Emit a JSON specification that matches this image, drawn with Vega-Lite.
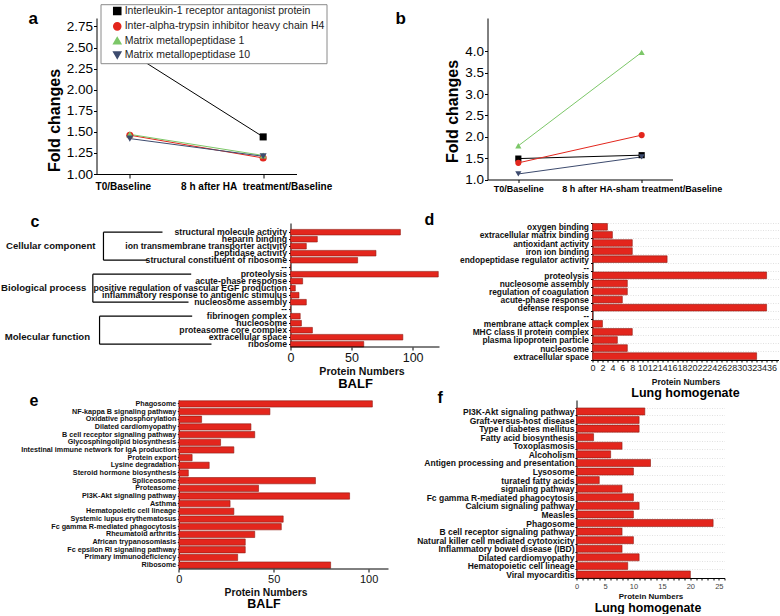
{
  "$schema": "https://vega.github.io/schema/vega-lite/v6.json",
  "padding": {"left": 0.5, "top": 3, "right": 0, "bottom": 0},
  "background": "white",
  "config": {
    "font": "Liberation Sans",
    "view": {"stroke": null},
    "axis": {"domainColor": "#000", "tickColor": "#000", "labelColor": "#111", "titleColor": "#111", "grid": false, "domainWidth": 1, "tickWidth": 1},
    "title": {"color": "#000"}
  },
  "datasets": {
    "lineA": [
      {"protein": "Interleukin-1 receptor antagonist protein", "time": "T0/Baseline", "fold": 2.44},
      {"protein": "Interleukin-1 receptor antagonist protein", "time": "8 h after HA\u00a0 treatment/Baseline", "fold": 1.44},
      {"protein": "Inter-alpha-trypsin inhibitor heavy chain H4", "time": "T0/Baseline", "fold": 1.46},
      {"protein": "Inter-alpha-trypsin inhibitor heavy chain H4", "time": "8 h after HA\u00a0 treatment/Baseline", "fold": 1.19},
      {"protein": "Matrix metallopeptidase 1", "time": "T0/Baseline", "fold": 1.47},
      {"protein": "Matrix metallopeptidase 1", "time": "8 h after HA\u00a0 treatment/Baseline", "fold": 1.22},
      {"protein": "Matrix metallopeptidase 10", "time": "T0/Baseline", "fold": 1.42},
      {"protein": "Matrix metallopeptidase 10", "time": "8 h after HA\u00a0 treatment/Baseline", "fold": 1.21}
    ],
    "lineB": [
      {"protein": "Interleukin-1 receptor antagonist protein", "time": "T0/Baseline", "fold": 1.49},
      {"protein": "Interleukin-1 receptor antagonist protein", "time": "8 h after HA-sham treatment/Baseline", "fold": 1.57},
      {"protein": "Inter-alpha-trypsin inhibitor heavy chain H4", "time": "T0/Baseline", "fold": 1.39},
      {"protein": "Inter-alpha-trypsin inhibitor heavy chain H4", "time": "8 h after HA-sham treatment/Baseline", "fold": 2.04},
      {"protein": "Matrix metallopeptidase 1", "time": "T0/Baseline", "fold": 1.79},
      {"protein": "Matrix metallopeptidase 1", "time": "8 h after HA-sham treatment/Baseline", "fold": 3.98},
      {"protein": "Matrix metallopeptidase 10", "time": "T0/Baseline", "fold": 1.13},
      {"protein": "Matrix metallopeptidase 10", "time": "8 h after HA-sham treatment/Baseline", "fold": 1.53}
    ],
    "barC": [
      {"cat": "structural molecule activity", "n": 90},
      {"cat": "heparin binding", "n": 22},
      {"cat": "ion transmembrane transporter activity", "n": 13},
      {"cat": "peptidase activity", "n": 70},
      {"cat": "structural constituent of ribosome", "n": 55},
      {"cat": "--1", "n": 0},
      {"cat": "proteolysis", "n": 121},
      {"cat": "acute-phase response", "n": 10},
      {"cat": "positive regulation of vascular EGF production", "n": 4},
      {"cat": "inflammatory response to antigenic stimulus", "n": 7},
      {"cat": "nucleosome assembly", "n": 13},
      {"cat": "--2", "n": 0},
      {"cat": "fibrinogen complex", "n": 8},
      {"cat": "nucleosome", "n": 9},
      {"cat": "proteasome core complex", "n": 18},
      {"cat": "extracellular space", "n": 92},
      {"cat": "ribosome", "n": 60}
    ],
    "bracketC": [
      {"x1": -153, "x2": -153, "y1": "structural molecule activity", "y2": "structural constituent of ribosome"},
      {"x1": -153, "x2": -104.7, "y1": "structural molecule activity", "y2": "structural molecule activity"},
      {"x1": -153, "x2": -117, "y1": "structural constituent of ribosome", "y2": "structural constituent of ribosome"},
      {"x1": -161.7, "x2": -161.7, "y1": "proteolysis", "y2": "nucleosome assembly"},
      {"x1": -161.7, "x2": -81.2, "y1": "proteolysis", "y2": "proteolysis"},
      {"x1": -161.7, "x2": -83.4, "y1": "nucleosome assembly", "y2": "nucleosome assembly"},
      {"x1": -156.2, "x2": -156.2, "y1": "fibrinogen complex", "y2": "ribosome"},
      {"x1": -156.2, "x2": -80.4, "y1": "fibrinogen complex", "y2": "fibrinogen complex"},
      {"x1": -156.2, "x2": -64.6, "y1": "ribosome", "y2": "ribosome"}
    ],
    "groupC": [
      {"label": "Cellular component", "gx": -159.5, "row": "ion transmembrane transporter activity"},
      {"label": "Biological process", "gx": -167, "row": "positive regulation of vascular EGF production"},
      {"label": "Molecular function", "gx": -164, "row": "extracellular space"}
    ],
    "barD": [
      {"cat": "oxygen binding", "n": 3},
      {"cat": "extracellular matrix binding", "n": 4},
      {"cat": "antioxidant activity", "n": 8},
      {"cat": "iron ion binding", "n": 8},
      {"cat": "endopeptidase regulator activity", "n": 15},
      {"cat": "--1", "n": 0},
      {"cat": "proteolysis", "n": 35},
      {"cat": "nucleosome assembly", "n": 7},
      {"cat": "regulation of coagulation", "n": 7},
      {"cat": "acute-phase response", "n": 6},
      {"cat": "defense response", "n": 35},
      {"cat": "--2", "n": 0},
      {"cat": "membrane attack complex", "n": 2},
      {"cat": "MHC class II protein complex", "n": 8},
      {"cat": "plasma lipoprotein particle", "n": 5},
      {"cat": "nucleosome", "n": 7},
      {"cat": "extracellular space", "n": 33}
    ],
    "barE": [
      {"cat": "Phagosome", "n": 102},
      {"cat": "NF-kappa B signaling pathway", "n": 48},
      {"cat": "Oxidative phosphorylation", "n": 12},
      {"cat": "Dilated cardiomyopathy", "n": 38},
      {"cat": "B cell receptor signaling pathway", "n": 40},
      {"cat": "Glycosphingolipid biosynthesis", "n": 22},
      {"cat": "Intestinal immune network for IgA production", "n": 29},
      {"cat": "Protein export", "n": 7},
      {"cat": "Lysine degradation", "n": 16},
      {"cat": "Steroid hormone biosynthesis", "n": 5},
      {"cat": "Spliceosome", "n": 72},
      {"cat": "Proteasome", "n": 42},
      {"cat": "PI3K-Akt signaling pathway", "n": 90},
      {"cat": "Asthma", "n": 27},
      {"cat": "Hematopoietic cell lineage", "n": 29},
      {"cat": "Systemic lupus erythematosus", "n": 55},
      {"cat": "Fc gamma R-mediated phagocytosis", "n": 54},
      {"cat": "Rheumatoid arthritis", "n": 40},
      {"cat": "African trypanosomiasis", "n": 35},
      {"cat": "Fc epsilon RI signaling pathway", "n": 35},
      {"cat": "Primary immunodeficiency", "n": 31},
      {"cat": "Ribosome", "n": 80}
    ],
    "barF": [
      {"cat": "PI3K-Akt signaling pathway", "n": 12},
      {"cat": "Graft-versus-host disease", "n": 11},
      {"cat": "Type I diabetes mellitus", "n": 11},
      {"cat": "Fatty acid biosynthesis", "n": 3},
      {"cat": "Toxoplasmosis", "n": 8},
      {"cat": "Alcoholism", "n": 6},
      {"cat": "Antigen processing and presentation", "n": 13},
      {"cat": "Lysosome", "n": 10},
      {"cat": "turated fatty acids", "n": 4},
      {"cat": "signaling pathway", "n": 8},
      {"cat": "Fc gamma R-mediated phagocytosis", "n": 10},
      {"cat": "Calcium signaling pathway", "n": 11},
      {"cat": "Measles", "n": 10},
      {"cat": "Phagosome", "n": 24},
      {"cat": "B cell receptor signaling pathway", "n": 8},
      {"cat": "Natural killer cell mediated cytotoxicity", "n": 10},
      {"cat": "Inflammatory bowel disease (IBD)", "n": 8},
      {"cat": "Dilated cardiomyopathy", "n": 11},
      {"cat": "Hematopoietic cell lineage", "n": 9},
      {"cat": "Viral myocarditis", "n": 20}
    ]
  },
  "spacing": 18,
  "vconcat": [
    {
      "spacing": 63,
      "hconcat": [
        {
          "width": 200, "height": 156,
          "title": {"text": "a", "anchor": "start", "frame": "group", "dx": -68, "offset": -10, "fontSize": 17, "fontWeight": "bold"},
          "data": {"name": "lineA"},
          "encoding": {
            "x": {"field": "time", "type": "ordinal", "sort": null, "scale": {"type": "point", "padding": 0.25},
              "axis": {"title": null, "labelAngle": 0, "labelFontSize": 10, "labelFontWeight": "bold", "labelColor": "#000", "labelOffset": -7, "tickSize": 4, "labelPadding": 3, "labelLimit": 400}},
            "y": {"field": "fold", "type": "quantitative", "scale": {"domain": [1, 2.85], "nice": false, "zero": false},
              "axis": {"values": [1, 1.25, 1.5, 1.75, 2, 2.25, 2.5, 2.75], "format": ".2f", "labelFontSize": 13.5, "labelColor": "#000", "tickSize": 3, "labelPadding": 1, "title": "Fold changes", "titleFontSize": 16, "titleFontWeight": "bold", "titleColor": "#000", "titleX": -34, "titleY": 102}},
            "color": {"field": "protein", "type": "nominal",
              "scale": {"domain": ["Interleukin-1 receptor antagonist protein", "Inter-alpha-trypsin inhibitor heavy chain H4", "Matrix metallopeptidase 1", "Matrix metallopeptidase 10"], "range": ["#000000", "#e3261d", "#7cc768", "#3d4b6e"]},
              "legend": {"title": null, "orient": "none", "legendX": 4, "legendY": -13.8, "strokeColor": "#8a8a8a", "fillColor": "#ffffff", "padding": 1.5, "labelFontSize": 10.5, "labelColor": "#222", "labelLimit": 400, "symbolSize": 50, "symbolOffset": 10, "labelOffset": 2.2, "rowPadding": 1.4}}
          },
          "layer": [
            {"mark": {"type": "line", "strokeWidth": 1}},
            {"mark": {"type": "point", "filled": true, "size": 50, "opacity": 1},
              "encoding": {"shape": {"field": "protein", "type": "nominal",
                "scale": {"domain": ["Interleukin-1 receptor antagonist protein", "Inter-alpha-trypsin inhibitor heavy chain H4", "Matrix metallopeptidase 1", "Matrix metallopeptidase 10"], "range": ["square", "circle", "triangle-up", "triangle-down"]},
                "legend": {"title": null, "orient": "none", "legendX": 4, "legendY": -13.8, "strokeColor": "#8a8a8a", "fillColor": "#ffffff", "padding": 1.5, "labelFontSize": 10.5, "labelColor": "#222", "labelLimit": 400, "symbolSize": 50, "symbolOffset": 10, "labelOffset": 2.2, "rowPadding": 1.4}}}}
          ]
        },
        {
          "width": 185, "height": 161.5,
          "title": {"text": "b", "anchor": "start", "frame": "group", "dx": -92, "offset": -10, "fontSize": 17, "fontWeight": "bold"},
          "data": {"name": "lineB"},
          "encoding": {
            "x": {"field": "time", "type": "ordinal", "sort": null, "scale": {"type": "point", "padding": 0.25},
              "axis": {"title": null, "labelAngle": 0, "labelFontSize": 9, "labelFontWeight": "bold", "labelColor": "#000", "tickSize": 3, "labelPadding": 2, "labelLimit": 400}},
            "y": {"field": "fold", "type": "quantitative", "scale": {"domain": [1, 4.785], "nice": false, "zero": false},
              "axis": {"values": [1, 1.5, 2, 2.5, 3, 3.5, 4], "format": ".1f", "labelFontSize": 13.5, "labelColor": "#000", "tickSize": 3, "labelPadding": 1, "title": "Fold changes", "titleFontSize": 16, "titleFontWeight": "bold", "titleColor": "#000", "titleX": -27, "titleY": 93, "minExtent": 92}},
            "color": {"field": "protein", "type": "nominal",
              "scale": {"domain": ["Interleukin-1 receptor antagonist protein", "Inter-alpha-trypsin inhibitor heavy chain H4", "Matrix metallopeptidase 1", "Matrix metallopeptidase 10"], "range": ["#000000", "#e3261d", "#7cc768", "#3d4b6e"]},
              "legend": {"title": null, "orient": "none", "legendX": 4, "legendY": -10.5, "strokeColor": "#8a8a8a", "fillColor": "#ffffff", "padding": 1.5, "labelFontSize": 9.6, "labelColor": "#222", "labelLimit": 400, "symbolSize": 25, "symbolOffset": 4, "labelOffset": 0, "rowPadding": 1}}
          },
          "layer": [
            {"mark": {"type": "line", "strokeWidth": 1}},
            {"mark": {"type": "point", "filled": true, "size": 38, "opacity": 1},
              "encoding": {"shape": {"field": "protein", "type": "nominal",
                "scale": {"domain": ["Interleukin-1 receptor antagonist protein", "Inter-alpha-trypsin inhibitor heavy chain H4", "Matrix metallopeptidase 1", "Matrix metallopeptidase 10"], "range": ["square", "circle", "triangle-up", "triangle-down"]},
                "legend": {"title": null, "orient": "none", "legendX": 4, "legendY": -10.5, "strokeColor": "#8a8a8a", "fillColor": "#ffffff", "padding": 1.5, "labelFontSize": 9.6, "labelColor": "#222", "labelLimit": 400, "symbolSize": 25, "symbolOffset": 4, "labelOffset": 0, "rowPadding": 1}}}}
          ]
        }
      ]
    },
    {
      "spacing": -10,
      "vconcat": [
        {
          "spacing": -16,
          "hconcat": [
            {
              "title": {"text": "c", "anchor": "start", "frame": "group", "dx": -66, "offset": -7, "fontSize": 16, "fontWeight": "bold"},
              "vconcat": [
                {
                  "width": 343, "height": 124,
                  "title": {"text": "BALF", "orient": "bottom", "anchor": "middle", "frame": "group", "dx": 87.5, "offset": 1, "fontSize": 13, "fontWeight": "bold"},
                  "layer": [
                    {
                      "data": {"name": "barC"},
                      "mark": {"type": "bar", "fill": "#e3261d", "stroke": "#8e1b12", "strokeWidth": 0.6},
                      "encoding": {
                        "y": {"field": "cat", "type": "nominal",
                          "scale": {"domain": ["structural molecule activity", "heparin binding", "ion transmembrane transporter activity", "peptidase activity", "structural constituent of ribosome", "--1", "proteolysis", "acute-phase response", "positive regulation of vascular EGF production", "inflammatory response to antigenic stimulus", "nucleosome assembly", "--2", "fibrinogen complex", "nucleosome", "proteasome core complex", "extracellular space", "ribosome"], "paddingInner": 0.2, "paddingOuter": 0.457, "align": 1},
                          "axis": {"title": null, "offset": -194, "labelFontSize": 8.7, "labelFontWeight": "bold", "labelColor": "#111", "labelPadding": 2, "tickSize": 2, "labelLimit": 400, "labelExpr": "test(/^--/, '' + datum.label) ? '--' : datum.label"}},
                        "x": {"field": "n", "type": "quantitative", "scale": {"domain": [-158.7, 122], "nice": false, "zero": false},
                          "axis": {"values": [0, 50, 100], "domain": false, "labelFontSize": 12.5, "labelColor": "#111", "tickSize": 3, "labelPadding": 1, "title": "Protein Numbers", "titleFontSize": 10.6, "titleFontWeight": "bold", "titlePadding": 3, "titleX": 265}}
                      }
                    },
                    {
                      "data": {"values": [{}]},
                      "mark": {"type": "rule", "color": "#000", "strokeWidth": 1},
                      "encoding": {"x": {"datum": 0}, "x2": {"datum": 122}, "y": {"value": "height"}}
                    },
                    {
                      "data": {"name": "bracketC"},
                      "mark": {"type": "rule", "color": "#000", "strokeWidth": 1.2},
                      "encoding": {
                        "x": {"field": "x1", "type": "quantitative"},
                        "x2": {"field": "x2"},
                        "y": {"field": "y1", "type": "nominal"},
                        "y2": {"field": "y2"}
                      }
                    },
                    {
                      "data": {"name": "groupC"},
                      "mark": {"type": "text", "align": "right", "baseline": "middle", "fontSize": 9.6, "fontWeight": "bold", "color": "#111"},
                      "encoding": {
                        "x": {"field": "gx", "type": "quantitative"},
                        "y": {"field": "row", "type": "nominal"},
                        "text": {"field": "label"}
                      }
                    }
                  ]
                }
              ]
            },
            {
              "title": {"text": "d", "anchor": "start", "frame": "group", "dx": -168, "offset": -9, "fontSize": 16, "fontWeight": "bold"},
              "vconcat": [
                {
                  "width": 186, "height": 137,
                  "title": {"text": "Lung homogenate", "orient": "bottom", "anchor": "middle", "frame": "group", "offset": 1, "fontSize": 12.5, "fontWeight": "bold"},
                  "data": {"name": "barD"},
                  "mark": {"type": "bar", "fill": "#e3261d", "stroke": "#8e1b12", "strokeWidth": 0.6},
                  "encoding": {
                    "y": {"field": "cat", "type": "nominal", "sort": null, "scale": {"paddingInner": 0.17, "paddingOuter": 0.06},
                      "axis": {"title": null, "labelFontSize": 8.4, "labelFontWeight": "bold", "labelColor": "#111", "labelPadding": 2, "tickSize": 2, "labelLimit": 400, "minExtent": 168, "labelExpr": "test(/^--/, '' + datum.label) ? '--' : datum.label", "grid": true, "tickBand": "extent", "gridColor": "#d4d4d4", "gridDash": [1, 1.5], "gridWidth": 0.7}},
                    "x": {"field": "n", "type": "quantitative", "scale": {"domain": [0, 37.4], "nice": false},
                      "axis": {"values": [0, 1, 2, 3, 4, 5, 6, 7, 8, 9, 10, 11, 12, 13, 14, 15, 16, 17, 18, 19, 20, 21, 22, 23, 24, 25, 26, 27, 28, 29, 30, 31, 32, 33, 34, 35, 36, 37], "labelExpr": "datum.value % 2 === 0 ? datum.label : ''", "labelOverlap": false, "labelFlush": false, "labelBound": false, "labelFontSize": 9, "labelColor": "#222", "tickSize": 2, "labelPadding": 1.5, "title": "Protein Numbers", "titleFontSize": 8.5, "titleFontWeight": "bold", "titlePadding": 5}}
                  }
                }
              ]
            }
          ]
        },
        {
          "spacing": 17,
          "hconcat": [
            {
              "title": {"text": "e", "anchor": "start", "frame": "group", "dx": -67, "offset": -10, "fontSize": 16, "fontWeight": "bold"},
              "vconcat": [
                {
                  "width": 292, "height": 169,
                  "title": {"text": "BALF", "orient": "bottom", "anchor": "middle", "frame": "group", "dx": 21.5, "offset": 1, "fontSize": 12.5, "fontWeight": "bold"},
                  "layer": [
                    {
                      "data": {"name": "barE"},
                      "mark": {"type": "bar", "fill": "#e3261d", "stroke": "#8e1b12", "strokeWidth": 0.6},
                      "encoding": {
                        "y": {"field": "cat", "type": "nominal", "sort": null, "scale": {"paddingInner": 0.18, "paddingOuter": 0.1},
                          "axis": {"title": null, "offset": -82.3, "labelFontSize": 7.2, "labelFontWeight": "bold", "labelColor": "#111", "labelPadding": 1.5, "tickSize": 1.5, "labelLimit": 400}},
                        "x": {"field": "n", "type": "quantitative", "scale": {"domain": [-43.4, 110.5], "nice": false, "zero": false},
                          "axis": {"values": [0, 50, 100], "domain": false, "labelFontSize": 11, "labelColor": "#111", "tickSize": 3, "labelPadding": 1, "title": "Protein Numbers", "titleFontSize": 10.3, "titleFontWeight": "bold", "titlePadding": 3, "titleX": 169}}
                      }
                    },
                    {
                      "data": {"values": [{}]},
                      "mark": {"type": "rule", "color": "#000", "strokeWidth": 1},
                      "encoding": {"x": {"datum": 0}, "x2": {"datum": 110.5}, "y": {"value": "height"}}
                    }
                  ]
                }
              ]
            },
            {
              "title": {"text": "f", "anchor": "start", "frame": "group", "dx": -139, "offset": -10, "fontSize": 16, "fontWeight": "bold"},
              "vconcat": [
                {
                  "width": 148, "height": 178,
                  "title": {"text": "Lung homogenate", "orient": "bottom", "anchor": "middle", "frame": "group", "dx": -2.5, "offset": 1, "fontSize": 12.3, "fontWeight": "bold"},
                  "data": {"name": "barF"},
                  "mark": {"type": "bar", "fill": "#e3261d", "stroke": "#8e1b12", "strokeWidth": 0.6},
                  "encoding": {
                    "y": {"field": "cat", "type": "nominal", "sort": null, "scale": {"paddingInner": 0.18, "paddingOuter": 0.463, "align": 1},
                      "axis": {"title": null, "labelFontSize": 8.5, "labelFontWeight": "bold", "labelColor": "#111", "labelPadding": 1, "tickSize": 1.5, "labelLimit": 400, "minExtent": 170, "grid": true, "tickBand": "extent", "gridColor": "#d4d4d4", "gridDash": [1, 1.5], "gridWidth": 0.7}},
                    "x": {"field": "n", "type": "quantitative", "scale": {"domain": [0, 26], "nice": false},
                      "axis": {"values": [0, 1, 2, 3, 4, 5, 6, 7, 8, 9, 10, 11, 12, 13, 14, 15, 16, 17, 18, 19, 20, 21, 22, 23, 24, 25, 26], "labelExpr": "datum.value % 5 === 0 ? datum.label : ''", "labelOverlap": false, "labelFlush": false, "labelBound": false, "labelFontSize": 7.5, "labelColor": "#444", "tickSize": 2, "labelPadding": 2, "title": "Protein Numbers", "titleFontSize": 8, "titleFontWeight": "bold", "titlePadding": 3}}
                  }
                }
              ]
            }
          ]
        }
      ]
    }
  ]
}
